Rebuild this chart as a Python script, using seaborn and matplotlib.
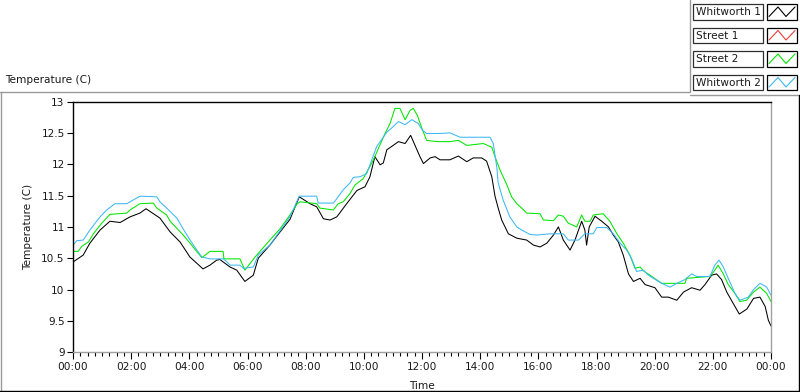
import numpy as np
import pandas as pd
import matplotlib
matplotlib.use("Agg")
import matplotlib.pyplot as plt
import seaborn as sns
from matplotlib.lines import Line2D
from matplotlib.patches import Rectangle

# hours since midnight, temperature in C
whit1_t = [0.00, 0.35, 0.58, 0.93, 1.27, 1.62, 1.96, 2.30, 2.51, 2.99, 3.34, 3.68, 4.02, 4.47,
           4.71, 4.94, 5.05, 5.40, 5.63, 5.91, 6.20, 6.37, 6.77, 7.12, 7.46, 7.78, 8.15, 8.38,
           8.61, 8.84, 9.07, 9.41, 9.76, 10.04, 10.21, 10.38, 10.56, 10.67, 10.79, 11.01, 11.19,
           11.42, 11.61, 11.76, 11.93, 12.05, 12.28, 12.45, 12.62, 12.96, 13.25, 13.54, 13.76,
           14.05, 14.22, 14.40, 14.51, 14.62, 14.74, 14.97, 15.26, 15.60, 15.83, 16.06, 16.29,
           16.52, 16.69, 16.86, 17.09, 17.26, 17.49, 17.60, 17.66, 17.75, 17.95, 18.18, 18.41,
           18.58, 18.75, 18.92, 19.10, 19.27, 19.50, 19.67, 20.01, 20.24, 20.47, 20.76, 20.99,
           21.27, 21.56, 21.73, 21.96, 22.13, 22.30, 22.48, 22.70, 22.91, 23.17, 23.40, 23.62,
           23.80, 23.91, 24.00]
whit1_v = [10.44, 10.55, 10.74, 10.95, 11.09, 11.07, 11.16, 11.22, 11.29, 11.14, 10.92, 10.76,
           10.52, 10.33, 10.39, 10.47, 10.48, 10.36, 10.31, 10.13, 10.23, 10.50, 10.71, 10.92,
           11.12, 11.48, 11.37, 11.32, 11.13, 11.11, 11.16, 11.37, 11.58, 11.64, 11.80, 12.12,
           11.99, 12.02, 12.23, 12.30, 12.36, 12.33, 12.46, 12.30, 12.12, 12.01, 12.10, 12.12,
           12.07, 12.07, 12.13, 12.04, 12.10, 12.10, 12.05, 11.80, 11.49, 11.30, 11.11, 10.89,
           10.82, 10.79, 10.71, 10.68, 10.74, 10.87, 11.00, 10.79, 10.63, 10.79, 11.09, 10.95,
           10.71, 11.00, 11.17, 11.09, 11.00, 10.87, 10.76, 10.55, 10.25, 10.13, 10.18, 10.08,
           10.03, 9.88, 9.88, 9.83, 9.96, 10.03, 9.99, 10.08, 10.23, 10.25, 10.16, 9.96, 9.78,
           9.61, 9.69, 9.86, 9.88, 9.73, 9.51, 9.42]

street1_t = []
street1_v = []

street2_t = [0.00, 0.18, 0.30, 0.53, 0.70, 0.99, 1.27, 1.85, 1.96, 2.30, 2.76, 2.88, 3.22, 3.34,
             3.79, 4.08, 4.25, 4.43, 4.71, 5.16, 5.19, 5.74, 5.91, 6.26, 6.77, 7.12, 7.46, 7.71,
             7.81, 8.38, 8.49, 8.95, 9.12, 9.29, 9.52, 9.70, 9.98, 10.33, 10.67, 10.90, 11.07,
             11.24, 11.42, 11.59, 11.70, 11.84, 11.99, 12.16, 12.51, 12.96, 13.25, 13.54, 14.11,
             14.40, 14.51, 14.68, 14.91, 15.08, 15.26, 15.43, 15.60, 16.06, 16.17, 16.52, 16.69,
             16.86, 17.03, 17.32, 17.49, 17.60, 17.78, 17.89, 18.23, 18.46, 18.69, 18.92, 19.15,
             19.32, 19.50, 19.61, 19.84, 20.24, 21.04, 21.10, 21.90, 22.07, 22.18, 22.35, 22.53,
             22.76, 22.93, 23.16, 23.40, 23.62, 23.85, 24.00]
street2_v = [10.61, 10.61, 10.69, 10.76, 10.89, 11.06, 11.20, 11.22, 11.27, 11.37, 11.38, 11.30,
             11.19, 11.09, 10.87, 10.71, 10.61, 10.51, 10.61, 10.61, 10.49, 10.49, 10.31, 10.52,
             10.79, 10.97, 11.19, 11.37, 11.40, 11.37, 11.30, 11.27, 11.37, 11.40, 11.53, 11.67,
             11.77, 12.07, 12.43, 12.65, 12.89, 12.89, 12.71, 12.86, 12.89, 12.78, 12.58, 12.38,
             12.36, 12.36, 12.38, 12.30, 12.33, 12.27, 12.12, 11.91, 11.68, 11.48, 11.37, 11.30,
             11.22, 11.21, 11.11, 11.10, 11.19, 11.17, 11.06, 11.00, 11.19, 11.09, 11.09, 11.19,
             11.21, 11.09, 10.90, 10.74, 10.55, 10.34, 10.36, 10.30, 10.23, 10.10, 10.10, 10.18,
             10.21, 10.31, 10.39, 10.26, 10.08, 9.94, 9.81, 9.83, 9.96, 10.04, 9.94, 9.81]

whit2_t = [0.00, 0.13, 0.35, 0.58, 0.93, 1.16, 1.44, 1.85, 2.07, 2.30, 2.88, 2.99, 3.22, 3.57,
           3.85, 4.14, 4.43, 4.71, 5.16, 5.23, 5.40, 5.74, 5.86, 6.20, 6.37, 6.77, 7.46, 7.78,
           8.38, 8.43, 8.95, 9.07, 9.29, 9.52, 9.64, 9.87, 10.10, 10.44, 10.79, 11.01, 11.19,
           11.42, 11.65, 11.87, 12.02, 12.16, 12.62, 12.96, 13.31, 14.34, 14.45, 14.57, 14.62,
           14.79, 15.02, 15.26, 15.43, 15.71, 15.94, 16.40, 16.86, 17.03, 17.38, 17.60, 17.89,
           18.01, 18.35, 18.58, 18.81, 19.04, 19.21, 19.38, 19.61, 19.78, 20.24, 20.53, 20.76,
           21.04, 21.27, 21.44, 21.90, 22.07, 22.21, 22.35, 22.53, 22.76, 22.93, 23.22, 23.40,
           23.62, 23.85, 24.00]
whit2_v = [10.71, 10.78, 10.79, 10.95, 11.16, 11.27, 11.37, 11.37, 11.43, 11.49, 11.48, 11.40,
           11.30, 11.14, 10.92, 10.71, 10.52, 10.49, 10.49, 10.47, 10.39, 10.39, 10.34, 10.36,
           10.55, 10.71, 11.16, 11.49, 11.49, 11.38, 11.38, 11.45, 11.59, 11.70, 11.79, 11.80,
           11.85, 12.28, 12.51, 12.60, 12.68, 12.63, 12.71, 12.65, 12.54, 12.49, 12.49, 12.50,
           12.43, 12.43, 12.33, 11.96, 11.70, 11.43, 11.16, 11.00, 10.95, 10.88, 10.87, 10.89,
           10.89, 10.79, 10.79, 10.89, 10.89, 10.99, 10.99, 10.89, 10.74, 10.63, 10.49, 10.29,
           10.31, 10.23, 10.10, 10.04, 10.10, 10.16, 10.25, 10.21, 10.21, 10.39, 10.47, 10.37,
           10.18, 9.94, 9.83, 9.88, 10.00, 10.10, 10.04, 9.91]

series_names = ["Whitworth 1", "Street 1", "Street 2", "Whitworth 2"]
series_colors = ["#000000", "#ee3a3a", "#00e600", "#3cb8f5"]
x_ticks = list(range(0, 25, 2))
x_labels = ["%02d:00" % (h % 24) for h in x_ticks]
y_ticks = [9, 9.5, 10, 10.5, 11, 11.5, 12, 12.5, 13]
y_labels = ["9", "9.5", "10", "10.5", "11", "11.5", "12", "12.5", "13"]

sns.set_style("white")
plt.rcParams["font.family"] = ["DejaVu Sans"]
FS = 7.6
TXT = "#1a1a1a"

W, H = 800, 392
fig = plt.figure(figsize=(W / 100, H / 100), dpi=100)


def px(x, y):
    return x / W, 1 - y / H


ax = fig.add_axes([73 / W, 1 - 352.3 / H, 698 / W, 250.8 / H])

frames = [
    pd.DataFrame({"t": whit1_t, "v": whit1_v}),
    pd.DataFrame({"t": street1_t, "v": street1_v}),
    pd.DataFrame({"t": street2_t, "v": street2_v}),
    pd.DataFrame({"t": whit2_t, "v": whit2_v}),
]
for df, col in zip(frames, series_colors):
    if len(df) == 0:
        continue
    sns.lineplot(data=df, x="t", y="v", ax=ax, color=col, lw=0.75,
                 estimator=None, sort=False)

ax.set_xlim(0, 24)
ax.set_ylim(9, 13)
ax.set_xticks(x_ticks)
ax.set_xticklabels(x_labels)
ax.set_xticks(np.arange(0, 24.01, 0.25), minor=True)
ax.set_yticks(y_ticks)
ax.set_yticklabels(y_labels)
ax.tick_params(axis="both", which="major", direction="out", length=4, width=0.8,
               color="black", labelsize=FS, labelcolor=TXT, pad=2)
ax.tick_params(axis="x", which="major", length=5)
ax.tick_params(axis="x", which="minor", direction="out", length=3, width=0.8,
               color="black", bottom=True)
ax.tick_params(left=True, bottom=True)

ax.set_xlabel("Time", fontsize=FS, color=TXT)
ax.set_ylabel("Temperature (C)", fontsize=FS, color=TXT)
ax.xaxis.set_label_coords((422 - 73) / 698, (352.3 - 381) / 250.8)
ax.yaxis.set_label_coords((33 - 73) / 698, 0.5)

for side in ["left", "top"]:
    ax.spines[side].set_color("black")
    ax.spines[side].set_linewidth(1.0)
for side in ["right", "bottom"]:
    ax.spines[side].set_color("#a0a0a0")
    ax.spines[side].set_linewidth(1.0)

# outer panel frame
def fline(xs, ys, color, lw=1.0):
    pts = [px(x, y) for x, y in zip(xs, ys)]
    fig.add_artist(Line2D([p[0] for p in pts], [p[1] for p in pts],
                          color=color, lw=lw, transform=fig.transFigure))

fline([0, 690, 690], [92, 92, 0], "#9a9a9a")
fline([690, 799], [95, 95], "#9a9a9a")
fline([1, 1], [92, 391], "#9a9a9a")
fline([0, 800], [390.5, 390.5], "black")
fline([798.5, 798.5], [95, 391], "black")

fig.text(*px(5, 80), "Temperature (C)", fontsize=FS, color=TXT, va="center", ha="left")

# legend boxes
row_tops = [4, 27.5, 51, 74.5]
for name, col, top in zip(series_names, series_colors, row_tops):
    h = 15.5
    x0, y0 = px(693, top + h)
    fig.add_artist(Rectangle((x0, y0), 70 / W, h / H, transform=fig.transFigure,
                             facecolor="white", edgecolor="#303030", lw=0.9))
    fig.text(*px(696, top + h / 2 + 0.5), name, fontsize=FS, color=TXT,
             va="center", ha="left")
    sx0, sy0 = px(767, top + h)
    fig.add_artist(Rectangle((sx0, sy0), 30 / W, h / H, transform=fig.transFigure,
                             facecolor="white", edgecolor="black", lw=0.9))
    zx = [769, 778, 786, 795]
    zy = [top + h - 3, top + 3, top + h - 3, top + 3]
    fline(zx, zy, col, lw=0.8)

fig.savefig("out.png", dpi=100)
